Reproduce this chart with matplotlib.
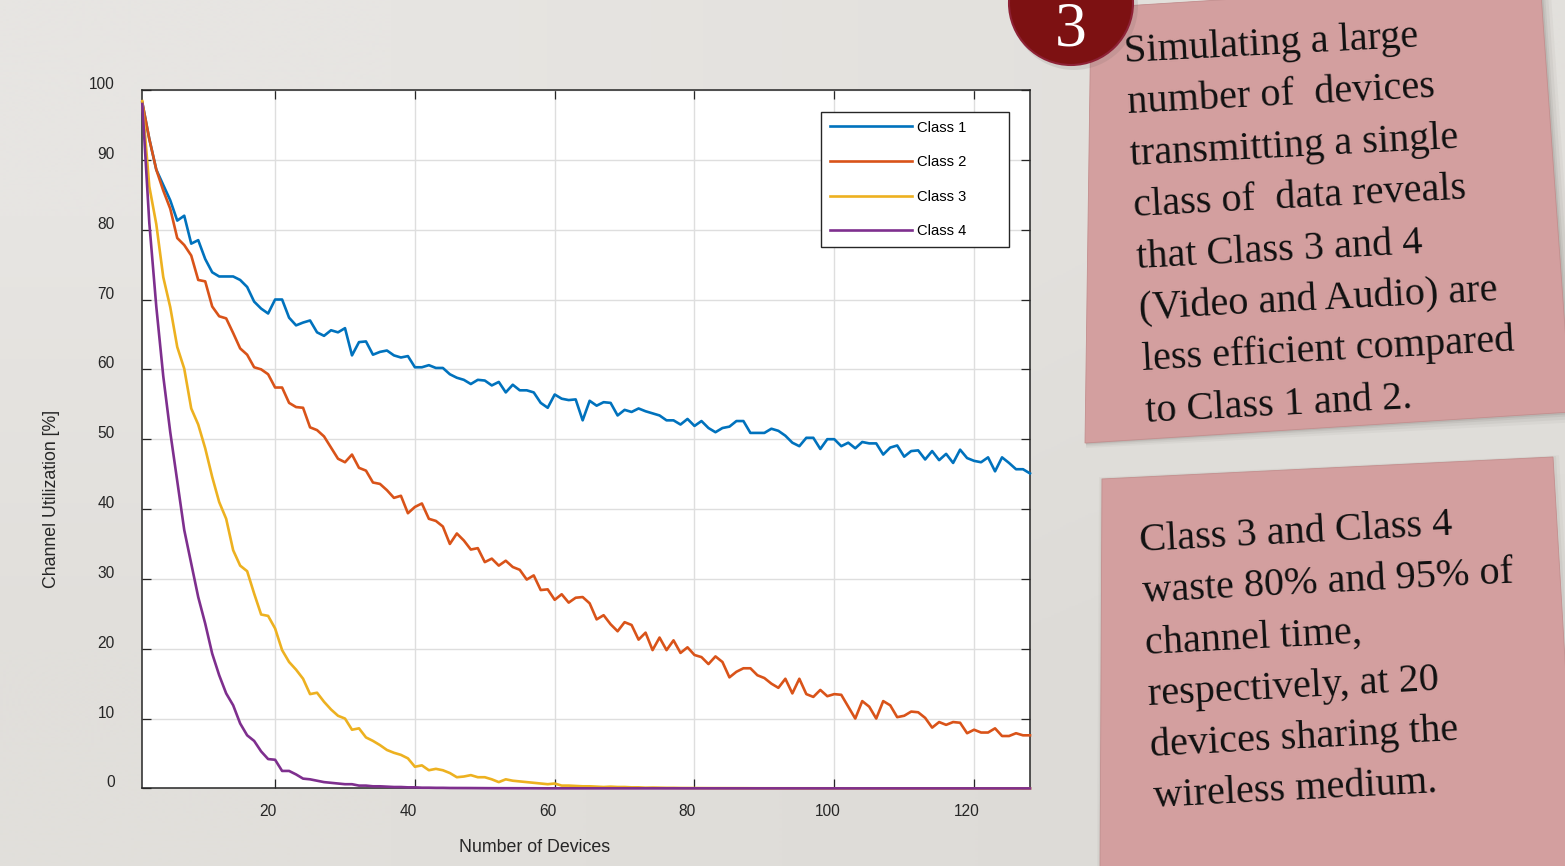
import matplotlib
matplotlib.use("Agg")
import numpy as np
import matplotlib.pyplot as plt
from matplotlib.patches import Polygon, Circle
from matplotlib.transforms import ScaledTranslation

plt.rcParams['font.family'] = ['Liberation Sans', 'DejaVu Sans']

# ---- data ----
devices = list(range(1, 129))

class1 = [98.2, 93.0, 88.6, 86.4, 84.2, 81.3, 82.0, 78.0, 78.5, 75.8,
          73.9, 73.3, 73.3, 73.3, 72.8, 71.8, 69.7, 68.7, 68.0, 70.0,
          70.0, 67.4, 66.3, 66.7, 67.0, 65.3, 64.8, 65.6, 65.3, 65.9,
          62.0, 63.9, 64.0, 62.1, 62.5, 62.7, 62.0, 61.7, 61.9, 60.3,
          60.3, 60.6, 60.2, 60.2, 59.3, 58.8, 58.5, 57.9, 58.5, 58.4,
          57.7, 58.2, 56.7, 57.8, 57.0, 57.0, 56.7, 55.2, 54.5, 56.4,
          55.8, 55.6, 55.7, 52.7, 55.5, 54.8, 55.3, 55.2, 53.4, 54.2,
          53.9, 54.4, 54.0, 53.7, 53.4, 52.7, 52.7, 52.1, 52.9, 51.9,
          52.6, 51.6, 51.0, 51.6, 51.8, 52.6, 52.6, 50.9, 50.9, 50.9,
          51.5, 51.2, 50.5, 49.5, 49.0, 50.2, 50.2, 48.6, 50.0, 50.0,
          49.0, 49.5, 48.7, 49.6, 49.4, 49.4, 47.8, 48.8, 49.1, 47.5,
          48.3, 48.4, 47.1, 48.3, 47.0, 47.9, 46.6, 48.5, 47.3, 46.9,
          46.7, 47.4, 45.4, 47.4, 46.6, 45.7, 45.7, 45.1]

class2 = [98.2, 93.0, 88.6, 85.6, 83.0, 78.8, 77.8, 76.3, 72.8, 72.6,
          69.0, 67.6, 67.3, 65.2, 63.0, 62.1, 60.3, 60.0, 59.3, 57.4,
          57.4, 55.2, 54.6, 54.5, 51.7, 51.3, 50.4, 48.8, 47.2, 46.7,
          47.8, 45.9, 45.5, 43.8, 43.6, 42.7, 41.6, 41.9, 39.4, 40.3,
          40.8, 38.6, 38.3, 37.5, 35.0, 36.5, 35.5, 34.2, 34.4, 32.4,
          32.9, 31.9, 32.6, 31.7, 31.3, 29.9, 30.5, 28.4, 28.5, 27.0,
          27.8, 26.6, 27.3, 27.4, 26.5, 24.2, 24.8, 23.5, 22.5, 23.8,
          23.4, 21.3, 22.3, 19.8, 21.6, 19.8, 21.2, 19.4, 20.2, 19.1,
          18.8, 17.8, 18.9, 18.1, 15.9, 16.7, 17.2, 17.2, 16.2, 15.8,
          15.0, 14.4, 15.7, 13.6, 15.7, 13.5, 13.1, 14.1, 13.2, 13.5,
          13.4, 11.7, 10.0, 12.5, 11.7, 10.0, 12.5, 11.9, 10.2, 10.4,
          11.0, 10.9, 10.1, 8.7, 9.5, 9.1, 9.5, 9.4, 7.9, 8.4,
          8.0, 8.0, 8.6, 7.5, 7.5, 7.9, 7.6, 7.6]

class3 = [98.4, 86.2, 80.8, 73.2, 68.9, 63.2, 60.1, 54.4, 52.1, 48.7,
          44.6, 41.0, 38.6, 34.1, 31.9, 31.1, 27.9, 24.9, 24.7, 22.9,
          19.8, 18.1, 17.0, 15.7, 13.5, 13.7, 12.4, 11.3, 10.4, 10.0,
          8.4, 8.6, 7.3, 6.8, 6.2, 5.5, 5.1, 4.8, 4.3, 3.1,
          3.3, 2.6, 2.8, 2.6, 2.2, 1.6, 1.7, 1.9, 1.6, 1.6,
          1.3, 0.9, 1.3, 1.1, 1.0, 0.9, 0.8, 0.7, 0.6, 0.7,
          0.4, 0.4, 0.35, 0.3, 0.3, 0.25, 0.2, 0.25, 0.2, 0.2,
          0.15, 0.15, 0.1, 0.12, 0.1, 0.08, 0.08, 0.06, 0.06, 0.05,
          0.04, 0.04, 0.04, 0.03, 0.03, 0.03, 0.03, 0.02, 0.02, 0.02,
          0.02, 0.02, 0.02, 0.01, 0.01, 0.01, 0.01, 0.01, 0.01, 0.01,
          0.01, 0.01, 0.01, 0.01, 0.01, 0.0, 0.0, 0.0, 0.0, 0.0,
          0.0, 0.0, 0.0, 0.0, 0.0, 0.0, 0.0, 0.0, 0.0, 0.0,
          0.0, 0.0, 0.0, 0.0, 0.0, 0.0, 0.0, 0.0]

class4 = [98.0, 81.0, 69.0, 59.0, 51.0, 44.0, 37.0, 32.2, 27.4, 23.6,
          19.3, 16.2, 13.6, 11.9, 9.3, 7.6, 6.8, 5.3, 4.2, 4.1,
          2.5, 2.5, 2.0, 1.4, 1.3, 1.1, 0.9, 0.8, 0.7, 0.6,
          0.6, 0.4, 0.4, 0.3, 0.3, 0.25, 0.2, 0.2, 0.15, 0.15,
          0.1, 0.1, 0.08, 0.08, 0.06, 0.06, 0.05, 0.05, 0.04, 0.04,
          0.03, 0.03, 0.03, 0.02, 0.02, 0.02, 0.02, 0.01, 0.01, 0.01,
          0.01, 0.01, 0.01, 0.01, 0.01, 0.0, 0.0, 0.0, 0.0, 0.0,
          0.0, 0.0, 0.0, 0.0, 0.0, 0.0, 0.0, 0.0, 0.0, 0.0,
          0.0, 0.0, 0.0, 0.0, 0.0, 0.0, 0.0, 0.0, 0.0, 0.0,
          0.0, 0.0, 0.0, 0.0, 0.0, 0.0, 0.0, 0.0, 0.0, 0.0,
          0.0, 0.0, 0.0, 0.0, 0.0, 0.0, 0.0, 0.0, 0.0, 0.0,
          0.0, 0.0, 0.0, 0.0, 0.0, 0.0, 0.0, 0.0, 0.0, 0.0,
          0.0, 0.0, 0.0, 0.0, 0.0, 0.0, 0.0, 0.0]

labels = ['Class 1', 'Class 2', 'Class 3', 'Class 4']
colors = ['#0072BD', '#D95319', '#EDB120', '#7E2F8E']

xticks = [20, 40, 60, 80, 100, 120]
yticks = [0, 10, 20, 30, 40, 50, 60, 70, 80, 90, 100]

note1_lines = ['Simulating a large', 'number of  devices', 'transmitting a single',
               'class of  data reveals', 'that Class 3 and 4',
               '(Video and Audio) are', 'less efficient compared',
               'to Class 1 and 2.']
note2_lines = ['Class 3 and Class 4', 'waste 80% and 95% of', 'channel time,',
               'respectively, at 20', 'devices sharing the',
               'wireless medium.']

W, H = 1565, 866
fig = plt.figure(figsize=(W / 100, H / 100), dpi=100)

# slide background
bg = fig.add_axes([0, 0, 1, 1])
grad = np.array([[[231, 229, 226], [226, 224, 220]],
                 [[225, 223, 219], [221, 219, 215]]]) / 255.0
bg.imshow(grad, extent=[0, 1, 0, 1], aspect='auto', interpolation='bilinear')
bg.axis('off')

# chart
ink = '#262626'
ax = fig.add_axes([142.3 / W, 1 - 788.4 / H, (1030 - 142.3) / W, (788.4 - 90) / H])
ax.set_facecolor('white')
for vals, lab, col in zip([class1, class2, class3, class4], labels, colors):
    ax.plot(devices, vals, color=col, lw=1.9, label=lab, clip_on=False, zorder=3)

ax.set_xlim(1, 128)
ax.set_ylim(0, 100)
ax.set_xticks(xticks)
ax.set_yticks(yticks)
ax.grid(True, color='#dedede', lw=1.0)
ax.set_axisbelow(True)
for s in ax.spines.values():
    s.set_color(ink)
    s.set_linewidth(1.1)
ax.tick_params(direction='in', top=True, right=True, length=6.5, width=0.9,
               colors=ink, labelsize=11.2)
ax.tick_params(axis='x', pad=11)
ax.tick_params(axis='y', pad=20)
for t in ax.get_xticklabels():
    t.set_transform(t.get_transform() + ScaledTranslation(-0.07, 0, fig.dpi_scale_trans))
for t in ax.get_yticklabels():
    t.set_transform(t.get_transform() + ScaledTranslation(0, 0.07, fig.dpi_scale_trans))

leg = ax.legend(loc='upper left', bbox_to_anchor=(821 / W, 1 - 252.7 / H, 188 / W, 141 / H),
                bbox_transform=fig.transFigure, mode='expand', borderaxespad=0,
                fontsize=10.6, handlelength=5.55, handletextpad=0.4, labelspacing=1.4,
                borderpad=0.6, fancybox=False, framealpha=1, edgecolor=ink)
leg.get_frame().set_linewidth(1.0)
for t in leg.get_texts():
    t.set_color('black')

# overlay in pixel coordinates: labels, notes, badge
ov = fig.add_axes([0, 0, 1, 1])
ov.set_xlim(0, W)
ov.set_ylim(H, 0)
ov.axis('off')
ov.patch.set_alpha(0)

ov.text(535, 847, 'Number of Devices', ha='center', va='center', fontsize=12.8, color=ink)
ov.text(51.7, 499, 'Channel Utilization [%]', ha='center', va='center', rotation=90,
        fontsize=12.8, color=ink)

pink = '#d39f9f'
shadow = '#6e6862'

# note 1 with soft shadow
n1 = [(1091, 8), (1540, -20), (1571, 412), (1085, 443)]
for k, a in zip([10, 7, 4, 2], [0.06, 0.08, 0.1, 0.14]):
    ov.add_patch(Polygon([(1091, 8), (1540 + k, -20), (1571 + k, 412 + k),
                          (1085 + 1, 443 + k * 0.5)], closed=True, fc=shadow,
                         ec='none', alpha=a))
ov.add_patch(Polygon(n1, closed=True, fc=pink, ec='#c48e8e', lw=0.6))

# note 2
n2 = [(1102, 479), (1553, 457), (1578, 880), (1100, 880)]
for k, a in zip([6, 3], [0.05, 0.08]):
    ov.add_patch(Polygon([(1102 - k * 0.5, 479 - k * 0.3), (1553 + k, 457 - k * 0.3),
                          (1578 + k, 880), (1100 - k * 0.5, 880)], closed=True,
                         fc=shadow, ec='none', alpha=a))
ov.add_patch(Polygon(n2, closed=True, fc=pink, ec='#c48e8e', lw=0.6))

serif = ['Liberation Serif', 'DejaVu Serif']
for i, line in enumerate(note1_lines):
    ov.text(1125 + i * 3.0, 62 + i * 51.4, line, family=serif, fontsize=29,
            rotation=3, rotation_mode='anchor', ha='left', va='baseline', color='#111111')
for i, line in enumerate(note2_lines):
    ov.text(1140 + i * 2.7, 551 + i * 51.2, line, family=serif, fontsize=29,
            rotation=3, rotation_mode='anchor', ha='left', va='baseline', color='#111111')

# numbered badge
ov.add_patch(Circle((1074, 6), 64, fc='#5a5450', ec='none', alpha=0.12))
ov.add_patch(Circle((1071, 3), 62, fc='#7d1112', ec='#8e2236', lw=1.5))
ov.text(1071, 45, '3', family=serif, fontsize=46, color='white', ha='center', va='baseline')

fig.savefig('out.png', dpi=100)
